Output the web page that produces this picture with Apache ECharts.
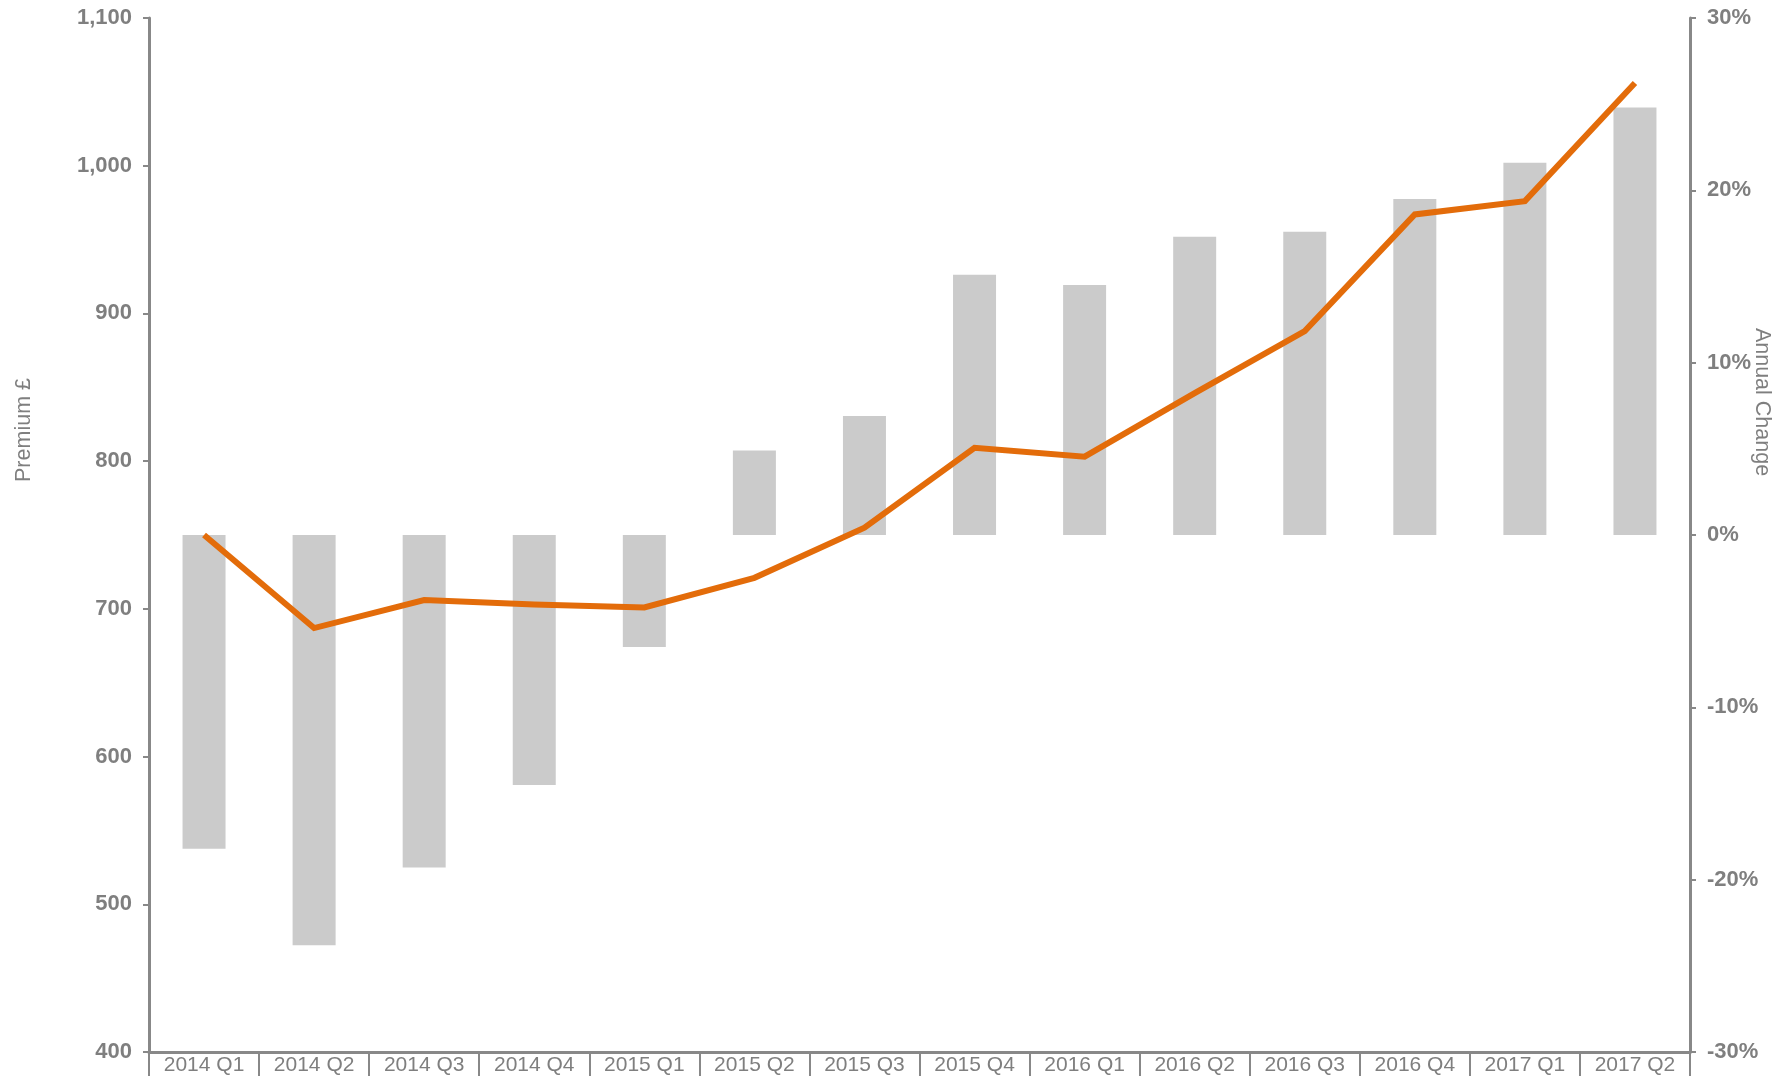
<!DOCTYPE html>
<html>
<head>
<meta charset="utf-8">
<title>Premium and Annual Change</title>
<script src="https://cdn.jsdelivr.net/npm/echarts@6/dist/echarts.min.js"></script>
<style>
  html, body { margin: 0; padding: 0; background: #ffffff; }
  #chart { width: 1786px; height: 1076px; }
</style>
</head>
<body>
<div id="chart"></div>
<script>
// Quarters shown along the x axis
var quarters = ['2014 Q1', '2014 Q2', '2014 Q3', '2014 Q4',
                '2015 Q1', '2015 Q2', '2015 Q3', '2015 Q4',
                '2016 Q1', '2016 Q2', '2016 Q3', '2016 Q4',
                '2017 Q1', '2017 Q2'];

// Average premium (£), left axis
var premium = [750, 687, 706, 703, 701, 721, 755, 809, 803, 846, 888, 967, 976, 1056];

// Year-on-year change (%), right axis
var annualChange = [-18.2, -23.8, -19.3, -14.5, -6.5, 4.9, 6.9, 15.1, 14.5, 17.3, 17.6, 19.5, 21.6, 24.8];

var FONT = '"Liberation Sans", Arial, sans-serif';
var GREY = '#7f7f7f';
var AXIS_GREY = '#888888';

var chart = echarts.init(document.getElementById('chart'), null, { renderer: 'canvas' });

chart.setOption({
  backgroundColor: '#ffffff',
  animation: false,
  grid: { left: 149, right: 96, top: 18, bottom: 18, containLabel: false },
  xAxis: {
    type: 'category',
    data: quarters,
    boundaryGap: true,
    axisLine: { show: true, onZero: false, lineStyle: { color: AXIS_GREY, width: 3 } },
    axisTick: { show: true, alignWithLabel: false, length: 30, lineStyle: { color: AXIS_GREY, width: 2 } },
    axisLabel: { color: GREY, fontFamily: FONT, fontSize: 21, margin: 3, interval: 0 },
    splitLine: { show: false }
  },
  yAxis: [
    {
      type: 'value',
      position: 'left',
      min: 400, max: 1100, interval: 100,
      axisLine: { show: true, lineStyle: { color: AXIS_GREY, width: 3 } },
      axisTick: { show: true, length: 6, lineStyle: { color: AXIS_GREY, width: 2 } },
      axisLabel: {
        color: GREY, fontFamily: FONT, fontSize: 22, fontWeight: 'bold', margin: 17,
        formatter: function (v) { return v.toLocaleString('en-GB'); }
      },
      splitLine: { show: false }
    },
    {
      type: 'value',
      position: 'right',
      min: -30, max: 30, interval: 10,
      axisLine: { show: true, lineStyle: { color: AXIS_GREY, width: 3 } },
      axisTick: { show: true, length: 6, lineStyle: { color: AXIS_GREY, width: 2 } },
      axisLabel: {
        color: GREY, fontFamily: FONT, fontSize: 22, fontWeight: 'bold', margin: 17,
        formatter: '{value}%'
      },
      splitLine: { show: false }
    }
  ],
  series: [
    {
      name: 'Annual Change',
      type: 'bar',
      yAxisIndex: 1,
      data: annualChange,
      barWidth: 43,
      itemStyle: { color: '#cbcbcb' },
      z: 1
    },
    {
      name: 'Premium',
      type: 'line',
      yAxisIndex: 0,
      data: premium,
      showSymbol: false,
      symbol: 'none',
      lineStyle: { color: '#e36c0a', width: 6, cap: 'butt', join: 'miter' },
      z: 3
    }
  ],
  graphic: [
    {
      type: 'text',
      x: 24, y: 430,
      rotation: Math.PI / 2,
      style: {
        text: 'Premium £', fill: GREY, font: '21.5px ' + FONT,
        textAlign: 'center', textVerticalAlign: 'middle'
      }
    },
    {
      type: 'text',
      x: 1762, y: 402,
      rotation: -Math.PI / 2,
      style: {
        text: 'Annual Change', fill: GREY, font: '21.5px ' + FONT,
        textAlign: 'center', textVerticalAlign: 'middle'
      }
    }
  ]
});
</script>
</body>
</html>
